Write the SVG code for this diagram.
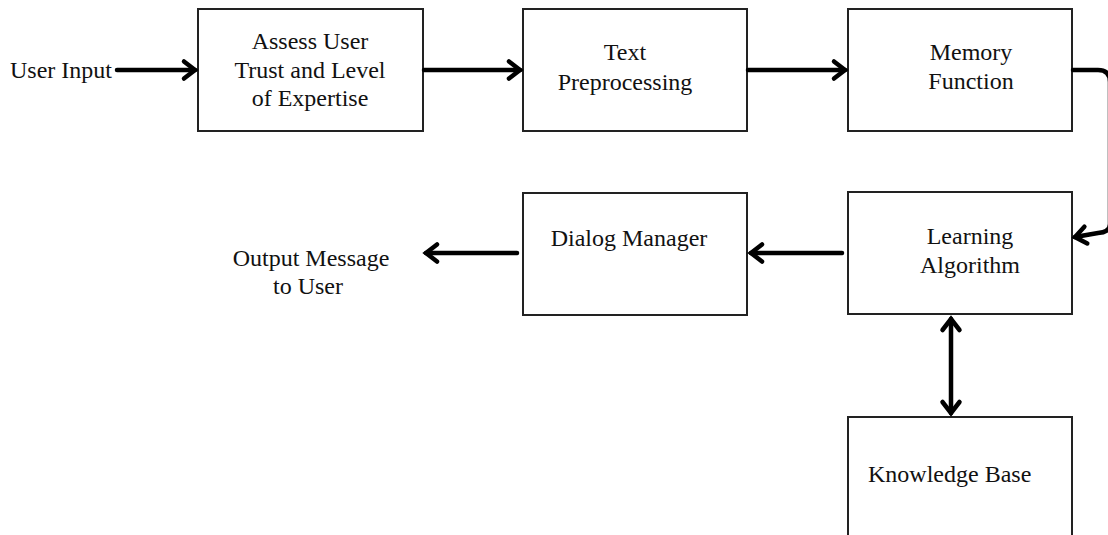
<svg xmlns="http://www.w3.org/2000/svg" width="1108" height="535" viewBox="0 0 1108 535">
<style>
.box{fill:#fff;stroke:#222;stroke-width:2}
.t{font-family:"Liberation Serif","Times New Roman",serif;font-size:24px;fill:#111}
.c{text-anchor:middle}
.conn{fill:none;stroke:#000;stroke-width:4.5;stroke-linecap:round;stroke-linejoin:round}
</style>
<defs>
<marker id="ah" viewBox="-20 -15 30 30" markerWidth="30" markerHeight="30" refX="0" refY="0" orient="auto-start-reverse" markerUnits="userSpaceOnUse">
<path d="M-11,-8.5 L0,0 L-11,8.5" fill="none" stroke="#000" stroke-width="4.5" stroke-linecap="round" stroke-linejoin="miter"/>
</marker>
</defs>
<rect width="1108" height="535" fill="#fff"/>
<g id="user-input"><text class="t" x="10" y="78">User Input</text></g>
<g id="assess"><rect class="box" x="198" y="9" width="225" height="122"/>
<text class="t c" x="310" y="49">Assess User</text>
<text class="t c" x="310" y="78">Trust and Level</text>
<text class="t c" x="310" y="106">of Expertise</text></g>
<g id="text-pre"><rect class="box" x="523" y="9" width="224" height="122"/>
<text class="t c" x="625" y="60">Text</text>
<text class="t c" x="625" y="90">Preprocessing</text></g>
<g id="memory"><rect class="box" x="848" y="9" width="224" height="122"/>
<text class="t c" x="971" y="60">Memory</text>
<text class="t c" x="971" y="89">Function</text></g>
<g id="learning"><rect class="box" x="848" y="192" width="224" height="122"/>
<text class="t c" x="970" y="244">Learning</text>
<text class="t c" x="970" y="273">Algorithm</text></g>
<g id="dialog"><rect class="box" x="523" y="193" width="224" height="122"/>
<text class="t c" x="629" y="246">Dialog Manager</text></g>
<g id="output"><text class="t c" x="311" y="266">Output Message</text>
<text class="t c" x="308" y="294">to User</text></g>
<g id="knowledge"><rect class="box" x="848" y="417" width="224" height="130"/>
<text class="t" x="868" y="482">Knowledge Base</text></g>
<g id="connectors">
<path class="conn" d="M117,70 L195,70" marker-end="url(#ah)"/>
<path class="conn" d="M424,70 L520,70" marker-end="url(#ah)"/>
<path class="conn" d="M748,70 L845,70" marker-end="url(#ah)"/>
<path class="conn" d="M1073,70 L1098,70 Q1110,70 1110,82 L1110,224 Q1110,232 1098,233 L1075,237" marker-end="url(#ah)"/>
<path class="conn" d="M842,253 L751,253" marker-end="url(#ah)"/>
<path class="conn" d="M517,253 L426,253" marker-end="url(#ah)"/>
<path class="conn" d="M951,319 L951,413" marker-start="url(#ah)" marker-end="url(#ah)"/>
</g>
</svg>
